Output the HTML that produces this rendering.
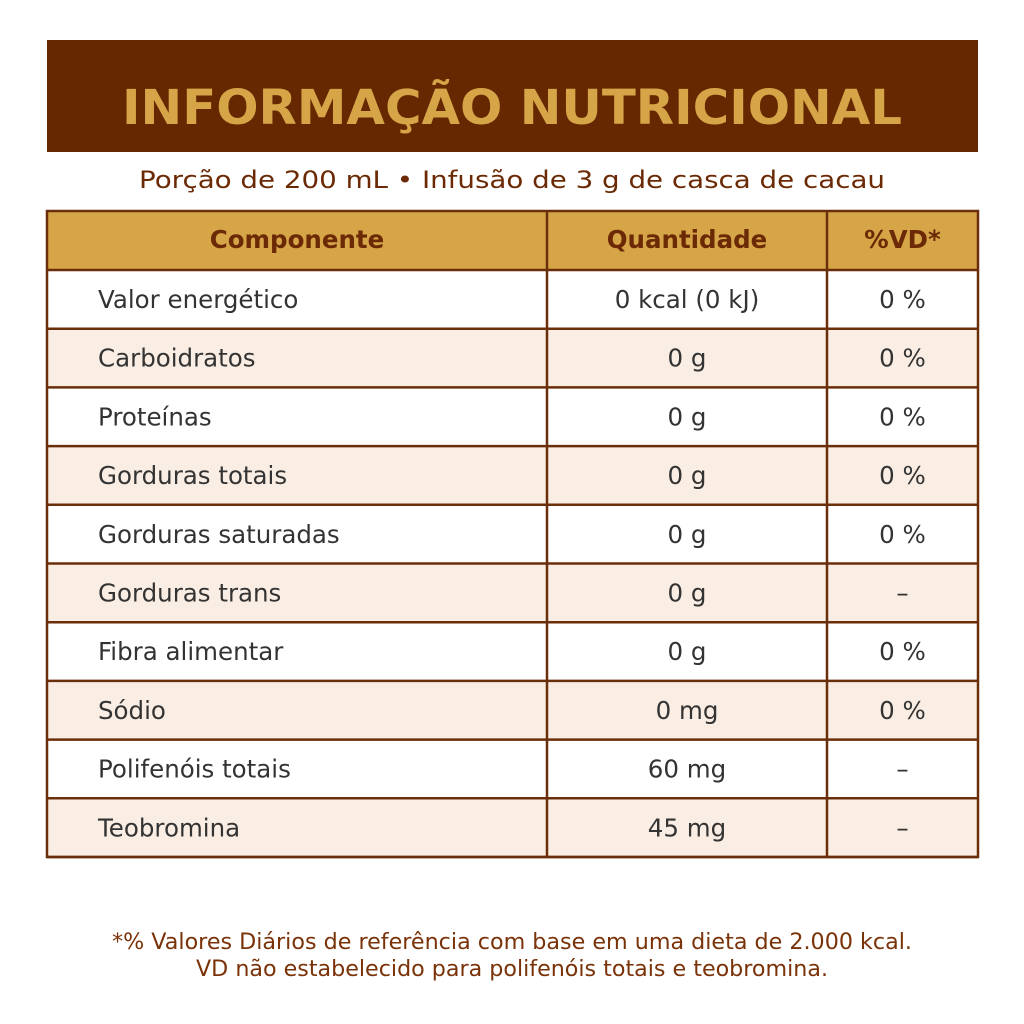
<!DOCTYPE html>
<html><head><meta charset="utf-8"><style>
html,body{margin:0;padding:0;background:#fff;}
svg{display:block;}
text{font-family:"DejaVu Sans","Liberation Sans",sans-serif;}
</style></head><body>
<svg width="1024" height="1024" viewBox="0 0 1024 1024">
<rect x="47" y="40" width="931" height="112" fill="#662800"/>
<text x="512" y="124" text-anchor="middle" font-size="48" font-weight="bold" fill="#D6A548" textLength="780" lengthAdjust="spacingAndGlyphs">INFORMAÇÃO NUTRICIONAL</text>
<text x="512" y="188" text-anchor="middle" font-size="24" fill="#6B2A05" textLength="746" lengthAdjust="spacingAndGlyphs">Porção de 200 mL • Infusão de 3 g de casca de cacau</text>
<g id="tbl"></g>
<text x="512" y="949" text-anchor="middle" font-size="22" fill="#7A3208" textLength="800" lengthAdjust="spacingAndGlyphs">*% Valores Diários de referência com base em uma dieta de 2.000 kcal.</text>
<text x="512" y="976" text-anchor="middle" font-size="22" fill="#7A3208" textLength="632" lengthAdjust="spacingAndGlyphs">VD não estabelecido para polifenóis totais e teobromina.</text>
</svg>
<script>
const names=["Valor energético","Carboidratos","Proteínas","Gorduras totais","Gorduras saturadas","Gorduras trans","Fibra alimentar","Sódio","Polifenóis totais","Teobromina"];
const amounts=["0 kcal (0 kJ)","0 g","0 g","0 g","0 g","0 g","0 g","0 mg","60 mg","45 mg"];
const vds=["0 %","0 %","0 %","0 %","0 %","–","0 %","0 %","–","–"];
const NS="http://www.w3.org/2000/svg";
const g=document.getElementById('tbl');
const x0=47,x1=547,x2=827,x3=978,y0=211,hh=59,rh=58.7,fs=24.5;
function mk(t,a){const e=document.createElementNS(NS,t);for(const k in a)e.setAttribute(k,a[k]);g.appendChild(e);return e;}
let hr=mk('rect',{x:x0,y:y0,width:x3-x0,height:hh,fill:'#D6A548'});


[["Componente",(x0+x1)/2],["Quantidade",(x1+x2)/2],["%VD*",(x2+x3)/2]].forEach(([t,cx])=>{
 const e=mk('text',{x:cx,y:y0+37,'text-anchor':'middle','font-size':fs,'font-weight':'bold',fill:'#6B2A05'});e.textContent=t;
 
 
});
names.forEach((n,i)=>{
 const y=y0+hh+i*rh;
 const r=mk('rect',{x:x0,y:y,width:x3-x0,height:rh,fill:i%2?'#FAEDE3':'#fff'});
 
 
 const a=mk('text',{x:98,y:y+38,'font-size':fs,fill:'#333'});a.textContent=n;
 
 
 const b=mk('text',{x:(x1+x2)/2,y:y+38,'text-anchor':'middle','font-size':fs,fill:'#333'});b.textContent=amounts[i];
 
 
 const c=mk('text',{x:(x2+x3)/2,y:y+38,'text-anchor':'middle','font-size':fs,fill:'#333'});c.textContent=vds[i];
 
 
});
const bottom=y0+hh+names.length*rh;
for(let i=0;i<=names.length;i++){const y=y0+hh+i*rh;mk('line',{x1:x0,x2:x3,y1:y,y2:y,stroke:'#6B2E0A','stroke-width':2.5});}
mk('rect',{x:x0,y:y0,width:x3-x0,height:bottom-y0,fill:'none',stroke:'#6B2E0A','stroke-width':2.5});
[x1,x2].forEach(x=>mk('line',{x1:x,x2:x,y1:y0,y2:bottom,stroke:'#6B2E0A','stroke-width':2.5}));
</script>
</body></html>
